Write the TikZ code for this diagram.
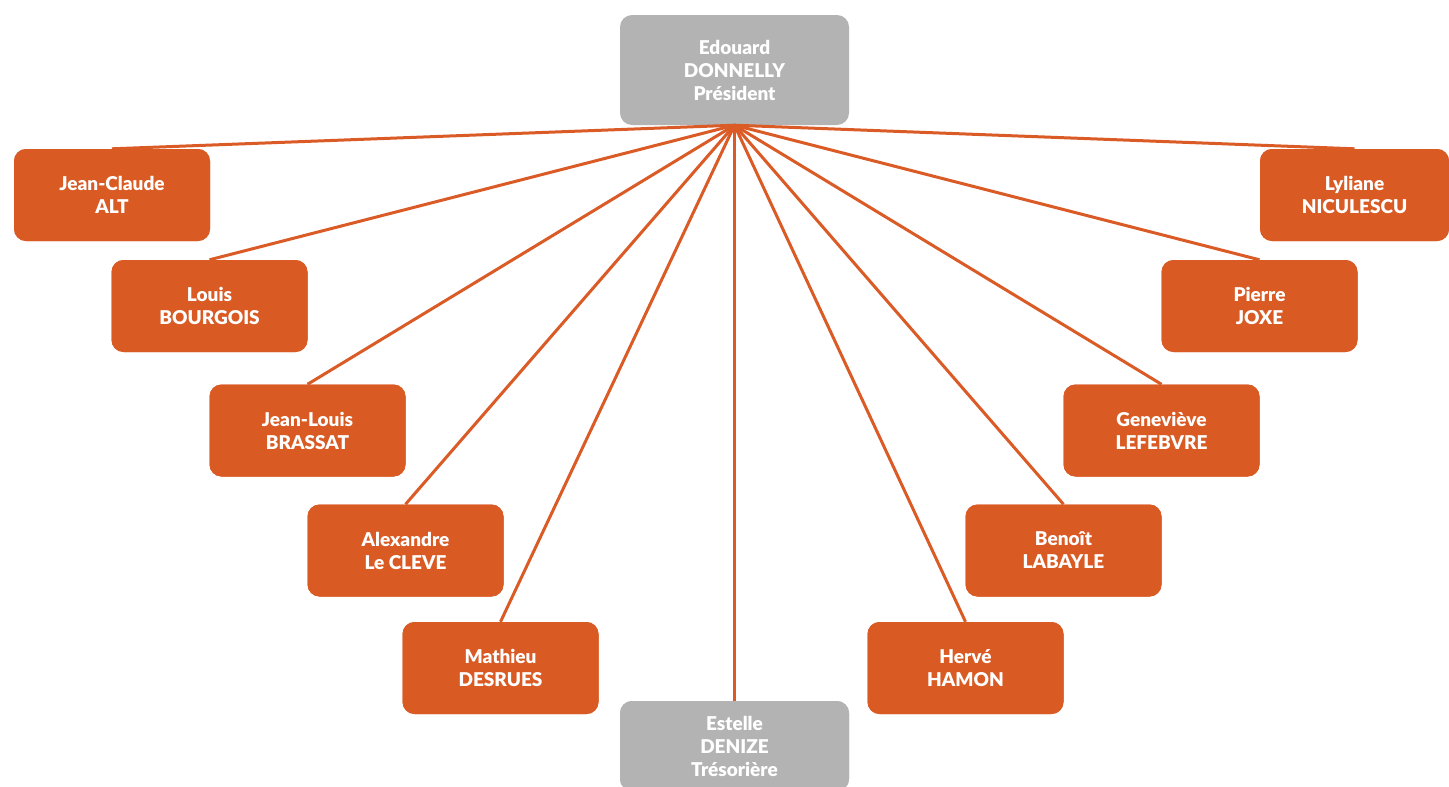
\documentclass[tikz,border=0pt]{standalone}
\usepackage{fontspec}
\setmainfont{Lato}[BoldFont={Lato Black}]
\definecolor{orgfill}{HTML}{D95A23}
\definecolor{orgline}{HTML}{DA5B26}
\definecolor{grayfill}{HTML}{B3B3B3}
\begin{document}
\begin{tikzpicture}[x=1pt,y=-1pt,
  box/.style={rounded corners=12pt, minimum width=196pt, minimum height=92pt, inner sep=0pt,
    text=white, font=\fontsize{19}{23}\selectfont\bfseries, align=center},
  obox/.style={box, fill=orgfill},
  gbox/.style={box, fill=grayfill, minimum width=229pt, minimum height=110pt},
  link/.style={draw=orgline, line width=3pt}]
\useasboundingbox (0,0) rectangle (1449,787);
\clip (0,0) rectangle (1449,787);
\node[obox] (jc) at (112,195) {Jean-Claude\\ALT};
\node[obox] (lb) at (209.5,306) {Louis\\BOURGOIS};
\node[obox] (jl) at (307.5,430.5) {Jean-Louis\\BRASSAT};
\node[obox] (al) at (405.5,550.5) {Alexandre\\Le CLEVE};
\node[obox] (md) at (500.5,668) {Mathieu\\DESRUES};
\node[obox, minimum width=189pt] (ln) at (1354.5,195) {Lyliane\\NICULESCU};
\node[obox] (pj) at (1259.5,306) {Pierre\\JOXE};
\node[obox] (gl) at (1161.5,430.5) {Geneviève\\LEFEBVRE};
\node[obox] (bl) at (1063.5,550.5) {Benoît\\LABAYLE};
\node[obox] (hh) at (965.5,668) {Hervé\\HAMON};
\node[gbox] (ed) at (734.5,70) {Edouard\\DONNELLY\\Président};
\node[gbox, minimum height=90pt] (es) at (734.5,746) {Estelle\\DENIZE\\Trésorière};
\foreach \n in {jc,lb,jl,al,md,ln,pj,gl,bl,hh}{
  \draw[link] (ed.south) -- (\n.north);
}
\draw[link] (ed.south) -- (es.north);
% redraw boxes over link ends
\node[obox] at (jc) {Jean-Claude\\ALT};
\node[obox] at (lb) {Louis\\BOURGOIS};
\node[obox] at (jl) {Jean-Louis\\BRASSAT};
\node[obox] at (al) {Alexandre\\Le CLEVE};
\node[obox] at (md) {Mathieu\\DESRUES};
\node[obox, minimum width=189pt] at (ln) {Lyliane\\NICULESCU};
\node[obox] at (pj) {Pierre\\JOXE};
\node[obox] at (gl) {Geneviève\\LEFEBVRE};
\node[obox] at (bl) {Benoît\\LABAYLE};
\node[obox] at (hh) {Hervé\\HAMON};
\node[gbox, minimum height=90pt] at (es) {Estelle\\DENIZE\\Trésorière};
\end{tikzpicture}
\end{document}
